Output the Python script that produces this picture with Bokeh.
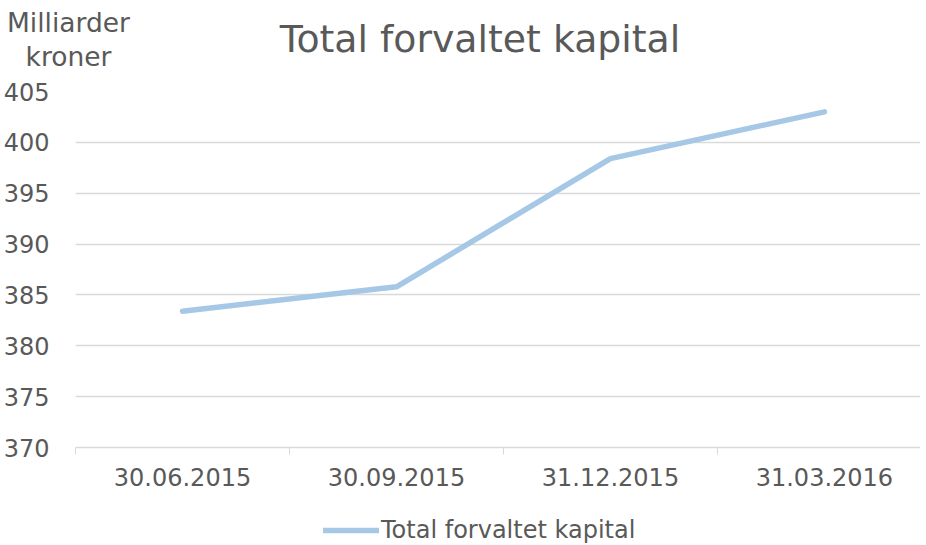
from bokeh.plotting import figure
from bokeh.models import Range1d, FixedTicker, Legend, LegendItem, Label
from bokeh.embed import file_html
from bokeh.resources import INLINE

dates = ["30.06.2015", "30.09.2015", "31.12.2015", "31.03.2016"]
values = [383.4, 385.8, 398.4, 403.0]
y_ticks = [370, 375, 380, 385, 390, 395, 400, 405]
chart_title = "Total forvaltet kapital"
series_name = "Total forvaltet kapital"
unit_lines = ["Milliarder", "kroner"]

FONT = "DejaVu Sans"
TXT = "#595959"
GRID = "#D9D9D9"
LINE = "#A6C8E6"

W = 920
TOP_H = 71
LEG_H = 50


def bare(height):
    f = figure(width=W, height=height, output_backend="svg", toolbar_location=None,
               x_range=Range1d(0, W), y_range=Range1d(0, height),
               x_axis_type=None, y_axis_type=None, min_border=0)
    f.outline_line_color = None
    f.xgrid.grid_line_color = None
    f.ygrid.grid_line_color = None
    return f


# ---- header (title + unit) ----
head = bare(TOP_H)
head.add_layout(Label(x=479.5, y=TOP_H - 38, text=chart_title, text_align="center",
                      text_baseline="middle", text_font=FONT, text_font_size="37.8px",
                      text_color=TXT))
for i, t in enumerate(unit_lines):
    head.add_layout(Label(x=68, y=TOP_H - 22 - i * 34, text=t, text_align="center",
                          text_baseline="middle", text_font=FONT, text_font_size="26.5px",
                          text_color=TXT))

# ---- main chart ----
x = list(range(len(dates)))
p = figure(frame_width=845, frame_height=356, output_backend="svg",
           toolbar_location=None,
           x_range=Range1d(-0.5, 3.449), y_range=Range1d(370, 405),
           min_border_left=0, min_border_right=0, min_border_top=20,
           min_border_bottom=48)
p.outline_line_color = None

r = p.line(x, values, line_color=LINE, line_width=5.5, line_cap="round", line_join="round")

xa = p.xaxis[0]
xa.axis_label = None
xa.ticker = FixedTicker(ticks=x, minor_ticks=[i - 0.5 for i in range(len(dates) + 1)])
xa.major_label_overrides = {i: d for i, d in zip(x, dates)}
xa.major_tick_line_color = None
xa.major_tick_out = 0
xa.major_tick_in = 0
xa.minor_tick_line_color = GRID
xa.minor_tick_out = 7
xa.minor_tick_in = 0
xa.axis_line_color = GRID
xa.axis_line_width = 1.5
xa.major_label_text_font = FONT
xa.major_label_text_font_size = "24px"
xa.major_label_text_color = TXT
xa.major_label_standoff = 13

ya = p.yaxis[0]
ya.axis_label = None
ya.ticker = FixedTicker(ticks=y_ticks)
ya.axis_line_color = None
ya.major_tick_line_color = None
ya.minor_tick_line_color = None
ya.major_label_text_font = FONT
ya.major_label_text_font_size = "24px"
ya.major_label_text_color = TXT
ya.major_label_standoff = 20

p.xgrid.grid_line_color = None
p.ygrid.grid_line_color = GRID
p.ygrid.grid_line_width = 1.5

# ---- legend strip (series re-drawn outside its visible range, only for the swatch) ----
leg = bare(LEG_H)
swatch = leg.line(x, values, line_color=LINE, line_width=5.5, line_cap="round")
legend = Legend(items=[LegendItem(label=series_name, renderers=[swatch])],
                orientation="horizontal", location=(323, 1),
                label_text_font=FONT, label_text_font_size="24px",
                label_text_color=TXT, glyph_width=56, glyph_height=20,
                label_standoff=2, border_line_color=None, padding=2,
                margin=0, background_fill_alpha=0)
leg.add_layout(legend, "center")

open("out.html", "w").write(file_html([head, p, leg], INLINE))
